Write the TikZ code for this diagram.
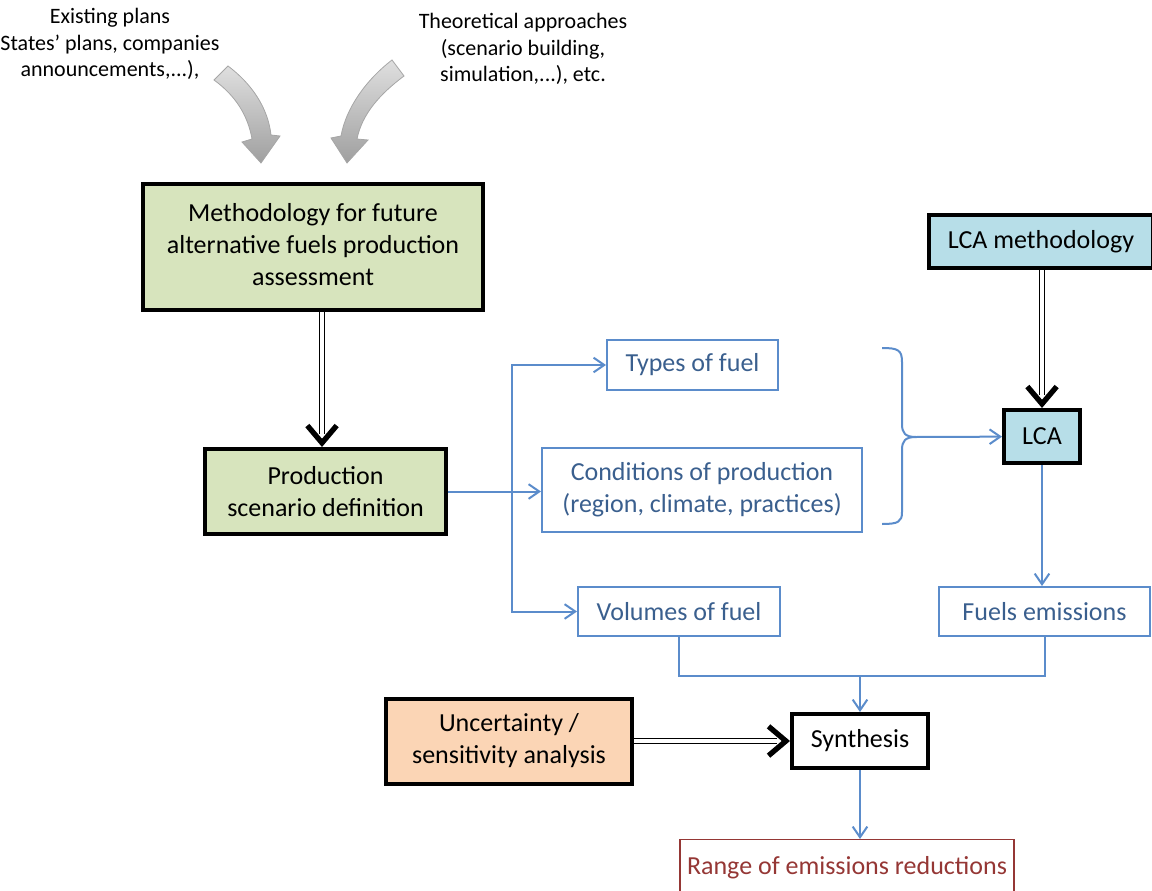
\documentclass[tikz,border=0pt]{standalone}
\usepackage{fontspec}
\setmainfont{Carlito}
\usetikzlibrary{arrows.meta, positioning}
\definecolor{stepgreen}{HTML}{D7E4BD}
\definecolor{lcablue}{HTML}{B7DEE8}
\definecolor{peach}{HTML}{FBD5B5}
\definecolor{flowblue}{HTML}{5B8CCB}
\definecolor{flowtext}{HTML}{3A5F8E}
\definecolor{outred}{HTML}{953735}
\tikzset{
  mainbox/.style={rectangle, draw=black, line width=3pt, align=center, font=\fontsize{19.5}{24}\selectfont, inner sep=0pt},
  greenbox/.style={mainbox, fill=stepgreen},
  lcabox/.style={mainbox, fill=lcablue},
  uncbox/.style={mainbox, fill=peach},
  synbox/.style={mainbox, fill=white},
  fuelbox/.style={rectangle, draw=flowblue, line width=1.5pt, text=flowtext, align=center, font=\fontsize{19.5}{24}\selectfont, inner sep=0pt},
  outbox/.style={rectangle, draw=outred, line width=1pt, text=outred, align=center, font=\fontsize{19.5}{24}\selectfont, inner sep=0pt},
  note/.style={align=center, font=\fontsize{16.5}{20}\selectfont},
  flow/.style={draw=flowblue, line width=1.5pt},
  flowarrow/.style={flow, -{Straight Barb[length=8pt, width=11pt]}},
  dblline/.style={draw=black, double=white, double distance=3pt, line width=1.1pt},
  dblhead/.style={draw=black, line width=4pt, -{Straight Barb[length=13pt, width=22pt]}},
  curlyarrow/.style={draw=gray!70, line width=0.6pt, top color=gray!25, bottom color=gray!75}
}
\begin{document}
\begin{tikzpicture}[x=0.75pt, y=-0.75pt]
  \useasboundingbox (0,0) rectangle (1152,891);

  % sources
  \node (plans) [note] at (110,44) {Existing plans\\States' plans, companies\\announcements,...),};
  \node (theory) [note] at (523,49) {Theoretical approaches\\(scenario building,\\simulation,...), etc.};
  \path[curlyarrow] (228,66) .. controls (252,84) and (268,108) .. (271,135) -- (280,136) -- (261,163)
    -- (242,142) -- (252,139) .. controls (248,116) and (236,96) .. (214,80) -- cycle;
  \path[curlyarrow] (392,60) .. controls (366,80) and (346,108) .. (341,136) -- (331,138) -- (347,163)
    -- (368,140) -- (357,139) .. controls (362,114) and (380,94) .. (404,76) -- cycle;

  % main boxes
  \node (meth) [greenbox, minimum width=255pt, minimum height=94.5pt] at (313,247) {\raisebox{6pt}{\begin{tabular}{@{}c@{}}Methodology for future\\alternative fuels production\\assessment\end{tabular}}};
  \node (prod) [greenbox, minimum width=180.75pt, minimum height=63.75pt] at (325.5,491.5) {Production\\scenario definition};
  \node (lcameth) [lcabox, minimum width=168pt, minimum height=39.75pt] at (1041,241.5) {LCA methodology};
  \node (lca) [lcabox, minimum width=57pt, minimum height=39.75pt] at (1042,436.5) {LCA};

  % fuel descriptors
  \node (types) [fuelbox, minimum width=128.25pt, minimum height=37.5pt] at (692.5,365) {Types of fuel};
  \node (cond) [fuelbox, minimum width=240pt, minimum height=63pt] at (702,490) {Conditions of production\\(region, climate, practices)};
  \node (vol) [fuelbox, minimum width=151.5pt, minimum height=36.75pt] at (679,611.5) {Volumes of fuel};
  \node (fem) [fuelbox, minimum width=158.25pt, minimum height=36.75pt] at (1044.5,611.5) {Fuels emissions};

  % synthesis
  \node (unc) [uncbox, minimum width=184.5pt, minimum height=63.75pt] at (509,741) {Uncertainty /\\sensitivity analysis};
  \node (syn) [synbox, minimum width=102pt, minimum height=40.5pt] at (860,741) {Synthesis};
  \node (range) [outbox, minimum width=250.5pt, minimum height=42pt, anchor=north] at (847,839) {Range of emissions reductions};

  \coordinate (split) at (512,491.5);
  \coordinate (bracetip) at (916,437);
  \coordinate (merge) at (860,676);

  % double arrows
  \draw[dblline, shorten >=10pt] (meth.south -| 322,0) -- (prod.north -| 322,0);
  \draw[dblhead] (322,443) -- (prod.north -| 322,0);
  \draw[dblline, shorten >=10pt] (lcameth.south -| lca.north) -- (lca);
  \draw[dblhead] (lca.north) ++(0,-6) -- (lca.north);
  \draw[dblline, shorten >=10pt] (unc) -- (syn);
  \draw[dblhead] (syn.west) ++(-6,0) -- (syn.west);

  % blue flows
  \draw[flowarrow] (prod.east) -- (prod.east -| cond.west);
  \draw[flowarrow] (split) |- (types);
  \draw[flowarrow] (split) |- (vol);
  \draw[flow] (882,348) .. controls (898,348) and (902,350) .. (902,362) -- (902,424)
    .. controls (902,433) and (905,437) .. (bracetip) .. controls (905,437) and (902,441) .. (902,450)
    -- (902,512) .. controls (902,522) and (898,524) .. (882,524);
  \draw[flowarrow] (bracetip) -- (lca);
  \draw[flowarrow] (lca) -- (lca.south |- fem.north);
  \draw[flow] (vol.south) |- (merge) -| (fem.south);
  \draw[flowarrow] (merge) -- (syn);
  \draw[flowarrow] (syn) -- (syn.south |- range.north);

\end{tikzpicture}
\end{document}
